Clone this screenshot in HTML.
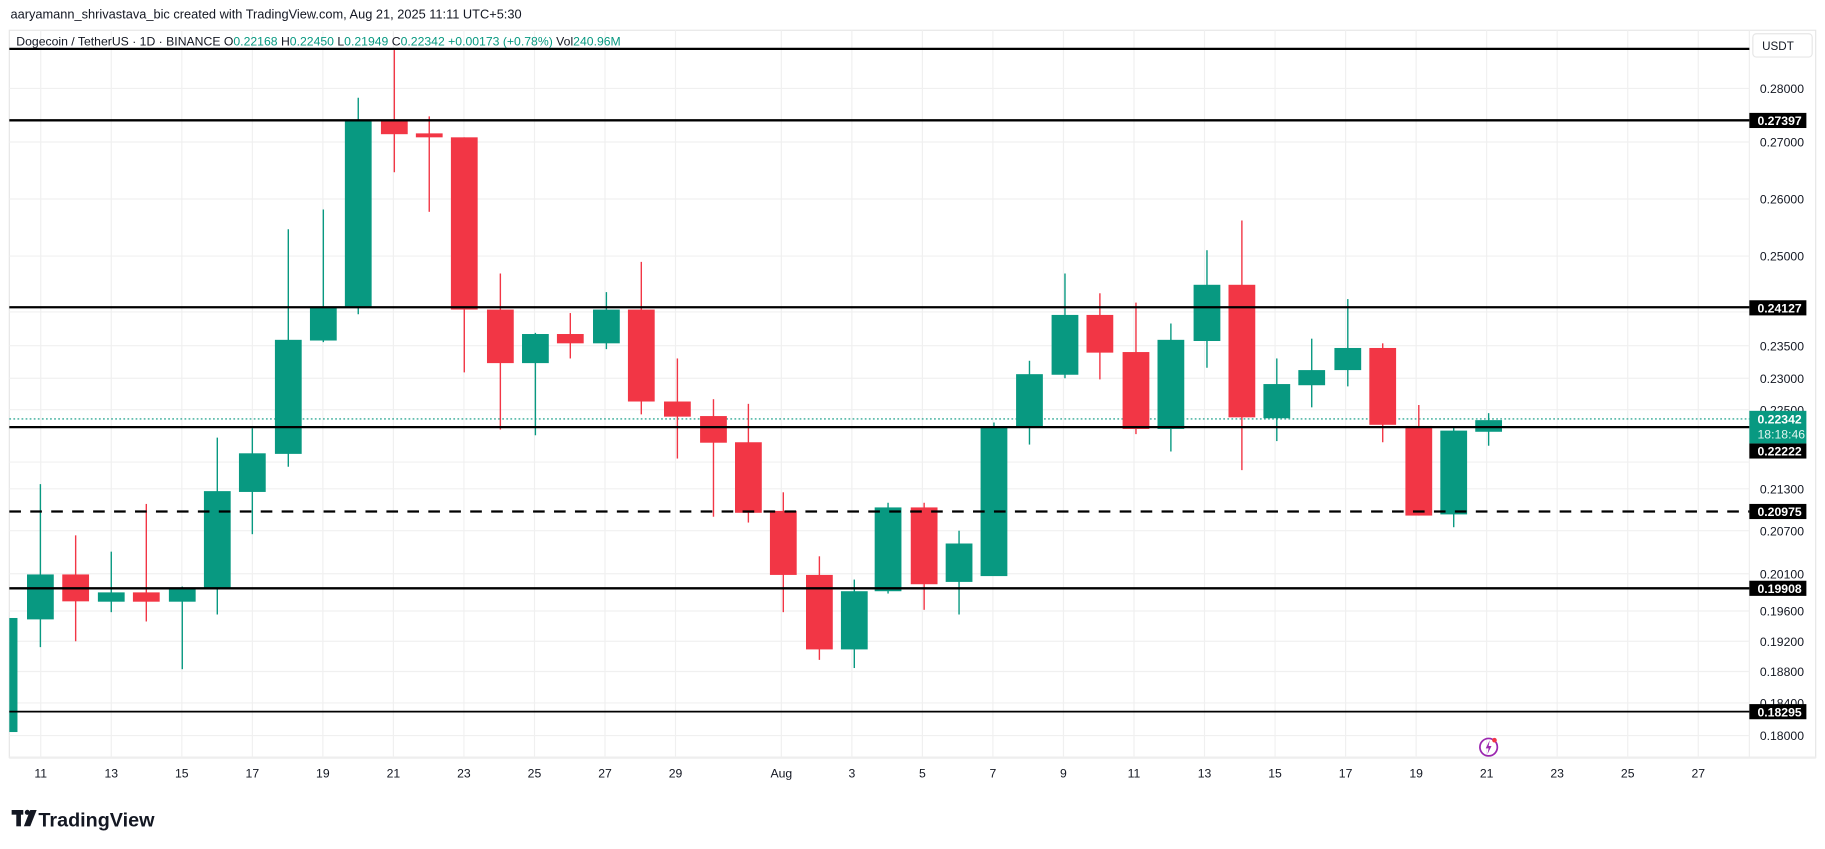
<!DOCTYPE html>
<html><head><meta charset="utf-8"><style>
html,body{margin:0;padding:0;background:#fff;}
svg{display:block;}
text{font-family:"Liberation Sans",sans-serif;}
</style></head><body>
<svg width="1825" height="849" viewBox="0 0 1568 729.5" preserveAspectRatio="none" xmlns="http://www.w3.org/2000/svg">
<rect x="0" y="0" width="1568" height="729.5" fill="#fff"/>
<text x="9" y="16" font-size="11" fill="#131722">aaryamann_shrivastava_bic created with TradingView.com, Aug 21, 2025 11:11 UTC+5:30</text>
<rect x="8" y="26" width="1552" height="625" fill="none" stroke="#e6e6e6" stroke-width="1"/>
<line x1="1503" y1="26" x2="1503" y2="651" stroke="#eee"/>
<line x1="8" y1="651" x2="1560" y2="651" stroke="#eee" stroke-width="2"/>
<g stroke="#f0f0f0" stroke-width="1">
<line x1="8" x2="1503" y1="76" y2="76"/><line x1="8" x2="1503" y1="122" y2="122"/><line x1="8" x2="1503" y1="171" y2="171"/><line x1="8" x2="1503" y1="220" y2="220"/><line x1="8" x2="1503" y1="268" y2="268"/><line x1="8" x2="1503" y1="297" y2="297"/><line x1="8" x2="1503" y1="325" y2="325"/><line x1="8" x2="1503" y1="352" y2="352"/><line x1="8" x2="1503" y1="397" y2="397"/><line x1="8" x2="1503" y1="420" y2="420"/><line x1="8" x2="1503" y1="456" y2="456"/><line x1="8" x2="1503" y1="493" y2="493"/><line x1="8" x2="1503" y1="525" y2="525"/><line x1="8" x2="1503" y1="551" y2="551"/><line x1="8" x2="1503" y1="577" y2="577"/><line x1="8" x2="1503" y1="604" y2="604"/><line x1="8" x2="1503" y1="632" y2="632"/>
</g>
<g stroke="#f0f0f0" stroke-width="1">
<line x1="35" x2="35" y1="26" y2="651"/><line x1="95.6" x2="95.6" y1="26" y2="651"/><line x1="156.2" x2="156.2" y1="26" y2="651"/><line x1="216.8" x2="216.8" y1="26" y2="651"/><line x1="277.4" x2="277.4" y1="26" y2="651"/><line x1="338" x2="338" y1="26" y2="651"/><line x1="398.6" x2="398.6" y1="26" y2="651"/><line x1="459.2" x2="459.2" y1="26" y2="651"/><line x1="519.8" x2="519.8" y1="26" y2="651"/><line x1="580.4" x2="580.4" y1="26" y2="651"/><line x1="671.3" x2="671.3" y1="26" y2="651"/><line x1="731.9" x2="731.9" y1="26" y2="651"/><line x1="792.5" x2="792.5" y1="26" y2="651"/><line x1="853.1" x2="853.1" y1="26" y2="651"/><line x1="913.7" x2="913.7" y1="26" y2="651"/><line x1="974.3" x2="974.3" y1="26" y2="651"/><line x1="1034.9" x2="1034.9" y1="26" y2="651"/><line x1="1095.5" x2="1095.5" y1="26" y2="651"/><line x1="1156.1" x2="1156.1" y1="26" y2="651"/><line x1="1216.7" x2="1216.7" y1="26" y2="651"/><line x1="1277.3" x2="1277.3" y1="26" y2="651"/><line x1="1337.9" x2="1337.9" y1="26" y2="651"/><line x1="1398.5" x2="1398.5" y1="26" y2="651"/><line x1="1459.1" x2="1459.1" y1="26" y2="651"/>
</g>
<text x="14" y="39" font-size="10.5" fill="#131722">Dogecoin / TetherUS · 1D · BINANCE  <tspan fill="#131722">O</tspan><tspan fill="#089981">0.22168</tspan>  <tspan fill="#131722">H</tspan><tspan fill="#089981">0.22450</tspan>  <tspan fill="#131722">L</tspan><tspan fill="#089981">0.21949</tspan>  <tspan fill="#131722">C</tspan><tspan fill="#089981">0.22342  +0.00173 (+0.78%)</tspan>  <tspan fill="#131722">Vol</tspan><tspan fill="#089981">240.96M</tspan></text>
<line x1="8" x2="1503" y1="360" y2="360" stroke="#089981" stroke-width="1" stroke-dasharray="1.5,2"/>
<rect x="8" y="531" width="7" height="98" fill="#089981"/>
<g stroke-width="1.2">
<line x1="34.7" x2="34.7" y1="416" y2="556" stroke="#089981"/><rect x="23.2" y="493.6" width="23" height="38.6" fill="#089981"/>
<line x1="65" x2="65" y1="460" y2="551" stroke="#F23645"/><rect x="53.5" y="493.6" width="23" height="23.1" fill="#F23645"/>
<line x1="95.6" x2="95.6" y1="474" y2="526" stroke="#089981"/><rect x="84.1" y="509" width="23" height="8" fill="#089981"/>
<line x1="125.7" x2="125.7" y1="433" y2="534" stroke="#F23645"/><rect x="114.2" y="509" width="23" height="8" fill="#F23645"/>
<line x1="156.6" x2="156.6" y1="504" y2="575" stroke="#089981"/><rect x="145.1" y="505" width="23" height="12" fill="#089981"/>
<line x1="186.7" x2="186.7" y1="376" y2="528" stroke="#089981"/><rect x="175.2" y="422" width="23" height="84" fill="#089981"/>
<line x1="216.8" x2="216.8" y1="368" y2="459" stroke="#089981"/><rect x="205.3" y="389.5" width="23" height="33.2" fill="#089981"/>
<line x1="247.7" x2="247.7" y1="197" y2="401" stroke="#089981"/><rect x="236.2" y="292" width="23" height="98" fill="#089981"/>
<line x1="277.8" x2="277.8" y1="180" y2="294" stroke="#089981"/><rect x="266.3" y="263.6" width="23" height="29" fill="#089981"/>
<line x1="307.8" x2="307.8" y1="84" y2="270" stroke="#089981"/><rect x="296.3" y="103.4" width="23" height="160.2" fill="#089981"/>
<line x1="338.8" x2="338.8" y1="43" y2="148" stroke="#F23645"/><rect x="327.3" y="103.4" width="23" height="11.9" fill="#F23645"/>
<line x1="368.8" x2="368.8" y1="100" y2="182" stroke="#F23645"/><rect x="357.3" y="114.6" width="23" height="3.4" fill="#F23645"/>
<line x1="398.9" x2="398.9" y1="118" y2="320" stroke="#F23645"/><rect x="387.4" y="118" width="23" height="148" fill="#F23645"/>
<line x1="429.9" x2="429.9" y1="235" y2="369" stroke="#F23645"/><rect x="418.4" y="266" width="23" height="46" fill="#F23645"/>
<line x1="460" x2="460" y1="286" y2="374" stroke="#089981"/><rect x="448.5" y="287" width="23" height="25" fill="#089981"/>
<line x1="490" x2="490" y1="269" y2="308" stroke="#F23645"/><rect x="478.5" y="287" width="23" height="8" fill="#F23645"/>
<line x1="521" x2="521" y1="251" y2="300" stroke="#089981"/><rect x="509.5" y="266" width="23" height="29" fill="#089981"/>
<line x1="551" x2="551" y1="225" y2="356" stroke="#F23645"/><rect x="539.5" y="266" width="23" height="79" fill="#F23645"/>
<line x1="582" x2="582" y1="308" y2="394" stroke="#F23645"/><rect x="570.5" y="345" width="23" height="13" fill="#F23645"/>
<line x1="613" x2="613" y1="343" y2="444" stroke="#F23645"/><rect x="601.5" y="357.5" width="23" height="22.9" fill="#F23645"/>
<line x1="643" x2="643" y1="347" y2="449" stroke="#F23645"/><rect x="631.5" y="380" width="23" height="60.6" fill="#F23645"/>
<line x1="673" x2="673" y1="423" y2="526" stroke="#F23645"/><rect x="661.5" y="439" width="23" height="55" fill="#F23645"/>
<line x1="704" x2="704" y1="478" y2="567" stroke="#F23645"/><rect x="692.5" y="494" width="23" height="64" fill="#F23645"/>
<line x1="734" x2="734" y1="498" y2="574" stroke="#089981"/><rect x="722.5" y="508" width="23" height="50" fill="#089981"/>
<line x1="763" x2="763" y1="432" y2="510" stroke="#089981"/><rect x="751.5" y="436" width="23" height="72" fill="#089981"/>
<line x1="794" x2="794" y1="432" y2="524" stroke="#F23645"/><rect x="782.5" y="436" width="23" height="66" fill="#F23645"/>
<line x1="824" x2="824" y1="456" y2="528" stroke="#089981"/><rect x="812.5" y="467" width="23" height="33" fill="#089981"/>
<line x1="854" x2="854" y1="363" y2="477" stroke="#089981"/><rect x="842.5" y="367" width="23" height="128" fill="#089981"/>
<line x1="884.5" x2="884.5" y1="310" y2="382" stroke="#089981"/><rect x="873" y="321.5" width="23" height="44.8" fill="#089981"/>
<line x1="915" x2="915" y1="235" y2="325" stroke="#089981"/><rect x="903.5" y="270.6" width="23" height="51.4" fill="#089981"/>
<line x1="945" x2="945" y1="252" y2="326" stroke="#F23645"/><rect x="933.5" y="270.6" width="23" height="32.4" fill="#F23645"/>
<line x1="976" x2="976" y1="260" y2="373" stroke="#F23645"/><rect x="964.5" y="302.5" width="23" height="66.1" fill="#F23645"/>
<line x1="1006" x2="1006" y1="278" y2="388" stroke="#089981"/><rect x="994.5" y="292" width="23" height="76.6" fill="#089981"/>
<line x1="1037" x2="1037" y1="215" y2="316" stroke="#089981"/><rect x="1025.5" y="244.7" width="23" height="48.3" fill="#089981"/>
<line x1="1067" x2="1067" y1="189.5" y2="404" stroke="#F23645"/><rect x="1055.5" y="244.7" width="23" height="113.9" fill="#F23645"/>
<line x1="1097" x2="1097" y1="308" y2="379" stroke="#089981"/><rect x="1085.5" y="330" width="23" height="29.4" fill="#089981"/>
<line x1="1127" x2="1127" y1="291" y2="350" stroke="#089981"/><rect x="1115.5" y="318" width="23" height="13" fill="#089981"/>
<line x1="1158" x2="1158" y1="257" y2="332" stroke="#089981"/><rect x="1146.5" y="299" width="23" height="19" fill="#089981"/>
<line x1="1188" x2="1188" y1="295" y2="380" stroke="#F23645"/><rect x="1176.5" y="299" width="23" height="66" fill="#F23645"/>
<line x1="1219" x2="1219" y1="348" y2="443" stroke="#F23645"/><rect x="1207.5" y="366" width="23" height="77" fill="#F23645"/>
<line x1="1249" x2="1249" y1="367" y2="453" stroke="#089981"/><rect x="1237.5" y="370" width="23" height="72" fill="#089981"/>
<line x1="1279" x2="1279" y1="355" y2="383" stroke="#089981"/><rect x="1267.5" y="361" width="23" height="10" fill="#089981"/>
</g>
<g stroke="#000" stroke-width="2">
<line x1="8" x2="1503" y1="42" y2="42"/>
<line x1="8" x2="1503" y1="103.4" y2="103.4"/>
<line x1="8" x2="1503" y1="264" y2="264"/>
<line x1="8" x2="1503" y1="367" y2="367"/>
<line x1="8" x2="1503" y1="439.5" y2="439.5" stroke-dasharray="10,8"/>
<line x1="8" x2="1503" y1="505.5" y2="505.5"/>
<line x1="8" x2="1503" y1="611.5" y2="611.5" stroke-width="1.5"/>
</g>
<rect x="1506" y="29" width="51" height="20" rx="3" fill="#fff" stroke="#e6e6e6"/>
<text x="1514" y="43" font-size="10" fill="#131722">USDT</text>
<g font-size="10.5" fill="#131722">
<text x="1512" y="80">0.28000</text><text x="1512" y="126">0.27000</text><text x="1512" y="175">0.26000</text><text x="1512" y="224">0.25000</text><text x="1512" y="301">0.23500</text><text x="1512" y="329">0.23000</text><text x="1512" y="356">0.22500</text><text x="1512" y="424">0.21300</text><text x="1512" y="460">0.20700</text><text x="1512" y="497">0.20100</text><text x="1512" y="529">0.19600</text><text x="1512" y="555">0.19200</text><text x="1512" y="581">0.18800</text><text x="1512" y="608">0.18400</text><text x="1512" y="636">0.18000</text>
</g>
<g font-size="10.5" font-weight="bold" fill="#fff">
<rect x="1503" y="97" width="49" height="13" fill="#000"/><text x="1510" y="107.5">0.27397</text>
<rect x="1503" y="258" width="49" height="13" fill="#000"/><text x="1510" y="268.5">0.24127</text>
<rect x="1503" y="381" width="49" height="13" fill="#000"/><text x="1510" y="391.5">0.22222</text>
<rect x="1503" y="433" width="49" height="13" fill="#000"/><text x="1510" y="443.5">0.20975</text>
<rect x="1503" y="499" width="49" height="13" fill="#000"/><text x="1510" y="509.5">0.19908</text>
<rect x="1503" y="605" width="49" height="13" fill="#000"/><text x="1510" y="615.5">0.18295</text>
<rect x="1503" y="353" width="49" height="28" fill="#089981"/><text x="1510" y="364">0.22342</text><text x="1510" y="377" font-weight="normal" fill="#e0f5ef">18:18:46</text>
</g>
<g font-size="10.5" fill="#131722" text-anchor="middle">
<text x="35" y="668">11</text><text x="95.6" y="668">13</text><text x="156.2" y="668">15</text><text x="216.8" y="668">17</text><text x="277.4" y="668">19</text><text x="338" y="668">21</text><text x="398.6" y="668">23</text><text x="459.2" y="668">25</text><text x="519.8" y="668">27</text><text x="580.4" y="668">29</text><text x="671.3" y="668">Aug</text><text x="731.9" y="668">3</text><text x="792.5" y="668">5</text><text x="853.1" y="668">7</text><text x="913.7" y="668">9</text><text x="974.3" y="668">11</text><text x="1034.9" y="668">13</text><text x="1095.5" y="668">15</text><text x="1156.1" y="668">17</text><text x="1216.7" y="668">19</text><text x="1277.3" y="668">21</text><text x="1337.9" y="668">23</text><text x="1398.5" y="668">25</text><text x="1459.1" y="668">27</text>
</g>
<circle cx="1279" cy="642" r="7.5" fill="none" stroke="#9c27b0" stroke-width="1.5"/>
<path d="M1280 636 L1276.5 643 L1279 643 L1278 648 L1281.5 641 L1279 641 Z" fill="#9c27b0"/>
<circle cx="1284" cy="636" r="2" fill="#F23645"/>
<g fill="#131722">
<rect x="10" y="696" width="10" height="4"/><rect x="14" y="696" width="4" height="14"/>
<circle cx="23.5" cy="698" r="2.2"/><path d="M26 696 L31.5 696 L26 710 L20.5 710 Z"/>
</g>
<text x="33" y="710" font-size="17" font-weight="bold" fill="#131722">TradingView</text>
</svg>
</body></html>
